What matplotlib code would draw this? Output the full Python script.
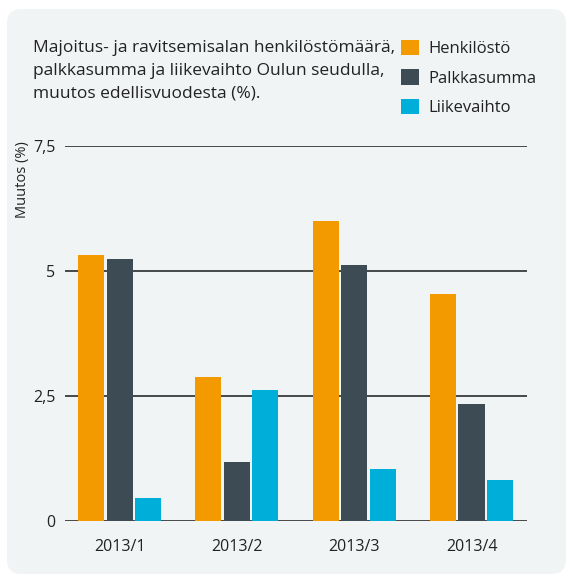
import matplotlib.pyplot as plt
import numpy as np
from matplotlib.patches import FancyBboxPatch

plt.rcParams['font.family'] = ['Open Sans', 'DejaVu Sans']

quarters = ['2013/1', '2013/2', '2013/3', '2013/4']
series = ['Henkilöstö', 'Palkkasumma', 'Liikevaihto']
henkilosto = [5.32, 2.88, 6.0, 4.54]
palkkasumma = [5.24, 1.18, 5.12, 2.34]
liikevaihto = [0.46, 2.62, 1.04, 0.82]
colors = ['#F39A00', '#3D4C54', '#00AEDA']

title = ('Majoitus- ja ravitsemisalan henkilöstömäärä,\n'
         'palkkasumma ja liikevaihto Oulun seudulla,\n'
         'muutos edellisvuodesta (%).')


def main():
    fig = plt.figure(figsize=(5.7, 5.74), dpi=100)
    fig.patch.set_facecolor('white')
    bg = FancyBboxPatch((7 / 570, 0.0), 559 / 570, 1 - 9 / 574,
                        boxstyle='round,pad=0,rounding_size=0.025',
                        transform=fig.transFigure, facecolor='#F1F4F5',
                        edgecolor='none', zorder=-10)
    fig.patches.append(bg)

    ax = fig.add_axes([65 / 570, 1 - 521 / 574, 462 / 570, 375 / 574])
    ax.set_facecolor('none')

    x = np.arange(len(quarters))
    width = 0.222
    step = 0.243
    for i, (vals, name) in enumerate(zip([henkilosto, palkkasumma, liikevaihto], series)):
        ax.bar(x + (i - 1) * step, vals, width, color=colors[i], label=name, zorder=2)

    ax.set_ylim(0, 7.5)
    ax.set_xlim(-0.465, 3.473)
    ax.set_yticks([0, 2.5, 5, 7.5])
    ax.set_yticklabels(['0', '2,5', '5', '7,5'], fontsize=11.5, color='#222222')
    ax.set_xticks(x)
    ax.set_xticklabels(quarters, fontsize=11.5, color='#222222')
    ax.tick_params(axis='both', length=0)
    ax.tick_params(axis='y', pad=7)
    ax.tick_params(axis='x', pad=13)
    ax.grid(axis='y', color='#3a3a3a', linewidth=1.3, zorder=1)
    for s in ax.spines.values():
        s.set_visible(False)

    fig.text(15 / 570, 1 - 141 / 574, 'Muutos (%)', rotation=90, va='top', ha='left',
             fontsize=10.5, color='#222222')
    fig.text(33 / 570, 1 - 40 / 574, title, va='top', ha='left', fontsize=12.5,
             color='#222222', linespacing=1.55)

    leg = fig.legend(loc='upper left', bbox_to_anchor=(401 / 570, 1 - 40 / 574),
                     frameon=False, fontsize=12, handlelength=1.05, handleheight=1.05,
                     handletextpad=0.6, labelspacing=0.72, borderpad=0,
                     borderaxespad=0)
    for t in leg.get_texts():
        t.set_color('#222222')

    fig.savefig('out.png', dpi=100)
    plt.close(fig)


if __name__ == '__main__':
    main()
